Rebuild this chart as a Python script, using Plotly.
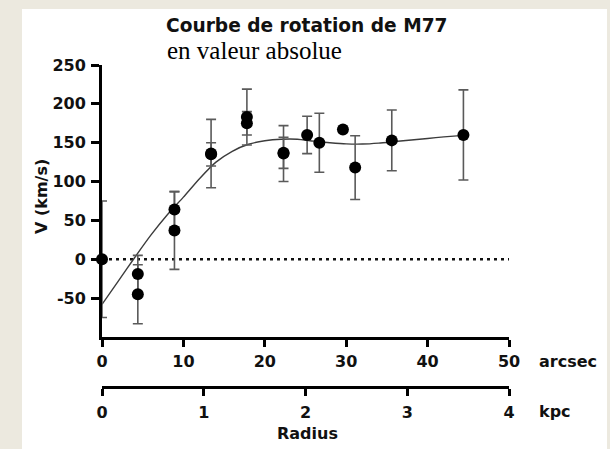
import plotly.graph_objects as go

# Observed rotation velocities of M77 (radius in arcsec, velocity in km/s, error in km/s)
radius_arcsec = [0, 4.4, 4.4, 8.9, 8.9, 13.4, 13.4, 17.8, 17.8, 22.3, 22.3, 25.2, 26.7, 29.6, 31.1, 35.6, 44.4]
velocity = [0, -19, -45, 64, 37, 136, 135, 183, 175, 136, 137, 160, 150, 167, 118, 153, 160]
velocity_err = [75, 24, 38, 23, 50, 44, 15, 36, 15, 36, 20, 24, 38, 0, 41, 39, 58]

# Fitted rotation curve
fit_radius = [0, 2, 4, 6, 8, 10, 12, 14, 16, 18, 20, 22, 24, 26, 28, 30, 32, 34, 36, 38, 40, 42, 44.4]
fit_velocity = [-58, -28, 2, 31, 57, 80, 104, 125, 139, 148, 152.5, 154.5, 154.5, 152, 150, 148.5,
                148.3, 149.5, 151.5, 153.5, 155.5, 157.5, 159.5]

# Axis ticks
y_ticks = [-50, 0, 50, 100, 150, 200, 250]
y_tick_text = ["-50", "0", "50", "100", "150", "200", "250"]
x_ticks = [0, 10, 20, 30, 40, 50]
kpc_ticks = [0, 1, 2, 3, 4]

W, H = 610, 449
L, R, T, B = 102, 509, 65, 387  # plot area in pixels
X_LINE = 337                     # arcsec axis line


def px(x):
    return (x - L) / (R - L)


def py(y):
    return (B - y) / (B - T)


bold = dict(family="DejaVu Sans", size=16, color="#111111", weight="bold")

fig = go.Figure()

fig.add_trace(go.Scatter(
    x=[0, 50], y=[0, 0], mode="lines",
    line=dict(color="#111111", width=2.5, dash="3px,4px"),
    hoverinfo="skip", showlegend=False,
))

fig.add_trace(go.Scatter(
    x=fit_radius, y=fit_velocity, mode="lines",
    line=dict(color="#3c3c3c", width=1.4, shape="spline", smoothing=0.6),
    showlegend=False,
))

fig.add_trace(go.Scatter(
    x=radius_arcsec, y=velocity, mode="markers",
    marker=dict(color="#000000", size=12),
    error_y=dict(type="data", array=velocity_err, color="#5a5a5a", thickness=1.6, width=5),
    cliponaxis=False, showlegend=False,
))

# Empty trace that carries the kpc axis
fig.add_trace(go.Scatter(x=[0, 4], y=[None, None], xaxis="x2", yaxis="y",
                         mode="markers", showlegend=False, hoverinfo="skip"))

axis_common = dict(showline=True, linecolor="#000000", linewidth=3, ticks="outside",
                   tickcolor="#000000", tickwidth=3, showgrid=False, zeroline=False,
                   tickfont=bold)

fig.update_layout(
    width=W, height=H,
    margin=dict(l=L, r=W - R, t=T, b=H - B, pad=0),
    paper_bgcolor="#ECE9DF",
    plot_bgcolor="rgba(0,0,0,0)",
    xaxis=dict(domain=[0, 1], range=[0, 50], anchor="y", tickvals=x_ticks, ticklen=7,
               layer="above traces", ticklabelstandoff=1, **axis_common),
    yaxis=dict(domain=[py(X_LINE), 1], range=[-100, 250], tickvals=y_ticks, ticktext=y_tick_text,
               ticklen=8, layer="above traces", ticklabelstandoff=2, **axis_common),
    xaxis2=dict(overlaying="x", anchor="free", position=0, side="bottom", range=[0, 4],
                tickvals=kpc_ticks, ticklen=7, ticklabelstandoff=3, **axis_common),
    shapes=[dict(type="rect", xref="paper", yref="paper", x0=px(22), x1=px(607), y0=py(449), y1=py(9),
                 fillcolor="#ffffff", line=dict(width=0), layer="below")],
    annotations=[
        dict(text="Courbe de rotation de M77", x=px(164), y=py(26), xref="paper", yref="paper",
             xanchor="left", yanchor="middle", showarrow=False,
             font=dict(family="DejaVu Sans", size=18.6, color="#111111", weight="bold")),
        dict(text="en valeur absolue", x=px(165), y=py(50), xref="paper", yref="paper",
             xanchor="left", yanchor="middle", showarrow=False,
             font=dict(family="Liberation Serif", size=25, color="#000000")),
        dict(text="V (km/s)", x=px(41), y=py(197), xref="paper", yref="paper", textangle=-90,
             xanchor="center", yanchor="middle", showarrow=False, font=bold),
        dict(text="arcsec", x=px(537), y=py(361), xref="paper", yref="paper",
             xanchor="left", yanchor="middle", showarrow=False, font=bold),
        dict(text="kpc", x=px(537), y=py(411), xref="paper", yref="paper",
             xanchor="left", yanchor="middle", showarrow=False, font=bold),
        dict(text="Radius", x=px(307), y=py(434), xref="paper", yref="paper",
             xanchor="center", yanchor="middle", showarrow=False, font=bold),
    ],
)

fig.write_html("out.html")
